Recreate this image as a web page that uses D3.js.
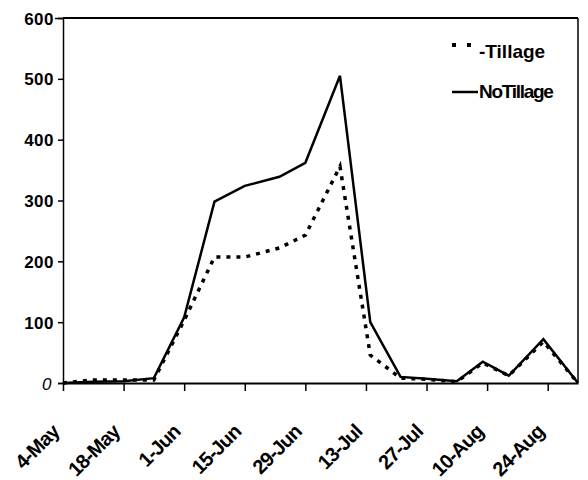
<!DOCTYPE html>
<html>
<head>
<meta charset="utf-8">
<script src="https://cdn.jsdelivr.net/npm/d3@7"></script>
<style>
  html, body { margin: 0; padding: 0; background: #fff; }
  svg { display: block; font-family: "Liberation Sans", Arial, sans-serif; }
</style>
</head>
<body>
<svg id="chart" width="588" height="480"></svg>
<script>
// ---- data ----
const sampleDates = ["4-May","11-May","18-May","25-May","1-Jun","8-Jun","15-Jun","23-Jun","29-Jun","7-Jul","14-Jul","21-Jul","27-Jul","3-Aug","9-Aug","15-Aug","23-Aug","31-Aug"];
const tillage   = [0, 5, 5, 5, 103, 207, 207, 222, 243, 356, 46, 8, 6, 2, 33, 12, 68, 0];
const noTillage = [0, 2, 3, 8, 108, 298, 324, 339, 362, 505, 100, 10, 7, 3, 35, 12, 72, 0];
const xTickLabels = ["4-May","18-May","1-Jun","15-Jun","29-Jun","13-Jul","27-Jul","10-Aug","24-Aug"];
const yTicks = [0, 100, 200, 300, 400, 500, 600];
const seriesNames = ["-Tillage", "NoTillage"];

// ---- layout ----
const svg = d3.select("#chart");
const W = 588, H = 480;
const margin = {left: 63, top: 18, right: 10, bottom: 97};
const parse = s => d3.timeParse("%d-%b-%Y")(s + "-2001");

const x = d3.scaleTime()
  .domain([parse("4-May"), parse("31-Aug")])
  .range([margin.left, W - margin.right]);
const y = d3.scaleLinear()
  .domain([0, 600])
  .range([H - margin.bottom, margin.top]);

const g = svg.append("g");

// frame (top + right)
g.append("line").attr("x1", x.range()[0]).attr("x2", x.range()[1])
  .attr("y1", y(600)).attr("y2", y(600)).attr("stroke", "#000").attr("stroke-width", 2);
g.append("line").attr("x1", x.range()[1]).attr("x2", x.range()[1])
  .attr("y1", y(600)).attr("y2", y(0)).attr("stroke", "#000").attr("stroke-width", 1.5);

// y axis
const yAxis = g.append("g")
  .attr("transform", `translate(${margin.left},0)`)
  .call(d3.axisLeft(y).tickValues(yTicks).tickSize(5).tickPadding(4).tickFormat(d3.format("d")));
yAxis.select(".domain").attr("stroke-width", 1.5);
yAxis.selectAll(".tick line").attr("stroke-width", 1.5);
yAxis.selectAll(".tick line").filter(d => d === 600).attr("x2", -8);
yAxis.selectAll(".tick text")
  .attr("font-family", "'Liberation Sans', Arial, sans-serif")
  .attr("font-size", 17).attr("font-weight", "bold").attr("fill", "#000")
  .attr("dy", "0.36em")
  .attr("letter-spacing", 0.5);
yAxis.selectAll(".tick text").filter(d => d === 0)
  .attr("font-style", "italic").attr("font-weight", "normal").attr("font-size", 17)
  .attr("x", -11);

// x axis
const xTickDates = xTickLabels.map(parse);
const xAxis = g.append("g")
  .attr("transform", `translate(0,${y(0)})`)
  .call(d3.axisBottom(x).tickValues(xTickDates).tickSize(8).tickSizeOuter(0)
    .tickFormat((d, i) => xTickLabels[i]));
xAxis.select(".domain").attr("stroke-width", 2);
xAxis.selectAll(".tick line").attr("stroke-width", 1.5);
xAxis.selectAll(".tick text")
  .attr("font-family", "'Liberation Sans', Arial, sans-serif")
  .attr("font-size", 20).attr("font-weight", "bold").attr("fill", "#000")
  .attr("letter-spacing", -0.8)
  .attr("text-anchor", "end")
  .attr("x", 0).attr("y", 0).attr("dy", 0)
  .attr("transform", "translate(-3,50) rotate(-45)");

// lines
const pts = vals => vals.map((v, i) => [parse(sampleDates[i]), v]);
const line = d3.line().x(d => x(d[0])).y(d => y(d[1]));

g.append("path").datum(pts(tillage))
  .attr("d", line).attr("fill", "none").attr("stroke", "#000")
  .attr("stroke-width", 3.5).attr("stroke-dasharray", "4,6");
g.append("path").datum(pts(noTillage))
  .attr("d", line).attr("fill", "none").attr("stroke", "#000")
  .attr("stroke-width", 2.5).attr("stroke-linejoin", "miter");

// legend
const lg = g.append("g");
lg.append("line").attr("x1", 452).attr("x2", 472).attr("y1", 45).attr("y2", 45)
  .attr("stroke", "#000").attr("stroke-width", 4).attr("stroke-dasharray", "4,11");
lg.append("text").attr("x", 479).attr("y", 58).text(seriesNames[0])
  .attr("font-size", 19).attr("fill", "#000").attr("font-weight", "bold").attr("letter-spacing", 0);
lg.append("line").attr("x1", 452).attr("x2", 478).attr("y1", 92).attr("y2", 92)
  .attr("stroke", "#000").attr("stroke-width", 2.5);
lg.append("text").attr("x", 479).attr("y", 98).text(seriesNames[1])
  .attr("font-size", 19).attr("fill", "#000").attr("font-weight", "bold").attr("letter-spacing", -1.3);
</script>
</body>
</html>
